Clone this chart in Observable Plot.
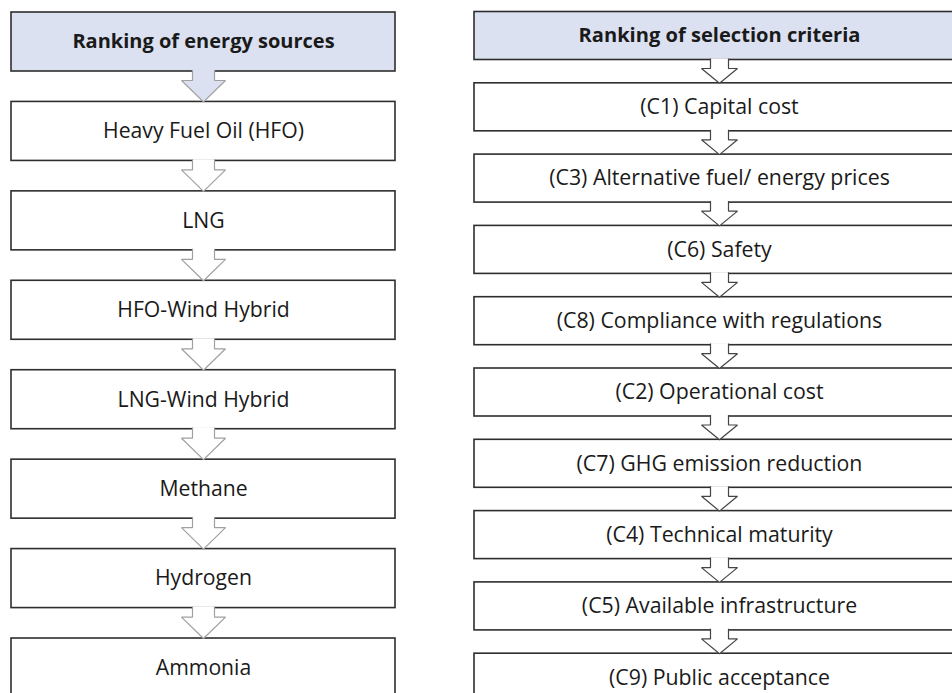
<!DOCTYPE html>
<html><head><meta charset="utf-8">
<script src="https://cdn.jsdelivr.net/npm/d3@7"></script>
<script src="https://cdn.jsdelivr.net/npm/@observablehq/plot@0.6"></script>
<style>
html,body{margin:0;padding:0;background:#fff;overflow:hidden}
#wrap{position:relative;width:952px;height:693px;overflow:hidden}
#left{position:absolute;left:0;top:0}
#right{position:absolute;left:440px;top:0}
svg{display:block}
</style></head><body>
<div id="wrap"><div id="left"></div><div id="right"></div></div>
<script>
// ---- data ----
const energyHeader = "Ranking of energy sources";
const energySources = ["Heavy Fuel Oil (HFO)", "LNG", "HFO-Wind Hybrid", "LNG-Wind Hybrid", "Methane", "Hydrogen", "Ammonia"];
const criteriaHeader = "Ranking of selection criteria";
const criteria = ["(C1) Capital cost", "(C3) Alternative fuel/ energy prices", "(C6) Safety",
  "(C8) Compliance with regulations", "(C2) Operational cost", "(C7) GHG emission reduction",
  "(C4) Technical maturity", "(C5) Available infrastructure", "(C9) Public acceptance"];

// ---- layout ----
const leftCfg = {width: 420, xl: 11, xr: 395, top: 12, step: 89.43, boxH: 59,
  stemHalf: 11, headHalf: 22, stemH: 9, headerArrowFill: "#dbe1f1", arrowStroke: "#a0a0a0",
  fontSize: 21.2, headerFontSize: 20};
const rightCfg = {width: 512, xl: 34, xr: 524, top: 11.5, step: 71.3, boxH: 48,
  stemHalf: 9, headHalf: 18, stemH: 8.5, headerArrowFill: "#ffffff", arrowStroke: "#444",
  fontSize: 21.3, headerFontSize: 20.1};

function column(header, items, c) {
  const rows = [{rank: 0, label: header, header: true}, ...items.map((l, i) => ({rank: i + 1, label: l, header: false}))];
  const n = rows.length;
  const cx = (c.xl + c.xr) / 2;
  const hFrac = c.boxH / c.step;
  const px = c.step; // pixels per row unit
  const arrows = [];
  rows.slice(0, n - 1).forEach(r => {
    const yb = r.rank + hFrac;
    const yn = r.rank + 1;
    const ys = yb + c.stemH / px;
    const pts = [
      [cx - c.stemHalf, yb - 1.6 / px], [cx - c.stemHalf, ys], [cx - c.headHalf, ys],
      [cx, yn], [cx + c.headHalf, ys], [cx + c.stemHalf, ys], [cx + c.stemHalf, yb - 1.6 / px]
    ];
    pts.forEach(([x, y]) => arrows.push({id: r.rank, header: r.header, x, y}));
  });
  return Plot.plot({
    width: c.width, height: 693,
    margin: 0,
    x: {domain: [0, c.width], range: [0, c.width], axis: null},
    y: {domain: [0, n], range: [c.top, c.top + n * c.step], axis: null},
    style: {fontFamily: "'Open Sans', Lato, sans-serif", background: "transparent", overflow: "hidden"},
    marks: [
      Plot.rect(rows, {x1: () => c.xl, x2: () => c.xr, y1: d => d.rank, y2: d => d.rank + hFrac,
        fill: d => d.header ? "#dbe1f1" : "#ffffff", stroke: "#2e2e2e", strokeWidth: 1.6}),
      Plot.line(arrows.filter(d => d.header), {x: "x", y: "y", z: "id", fill: c.headerArrowFill,
        stroke: c.arrowStroke, strokeWidth: 1.2, strokeLinejoin: "miter", strokeLinecap: "butt"}),
      Plot.line(arrows.filter(d => !d.header), {x: "x", y: "y", z: "id", fill: "#ffffff",
        stroke: c.arrowStroke, strokeWidth: 1.2, strokeLinejoin: "miter", strokeLinecap: "butt"}),
      Plot.text(rows.filter(d => d.header), {x: () => cx, y: d => d.rank + hFrac / 2, text: "label",
        fontSize: c.headerFontSize, fontWeight: "bold", lineAnchor: "middle", fill: "#1a1a1a"}),
      Plot.text(rows.filter(d => !d.header), {x: () => cx, y: d => d.rank + hFrac / 2, text: "label",
        fontSize: c.fontSize, lineAnchor: "middle", fill: "#1a1a1a"})
    ],
    color: {type: "identity"}
  });
}

document.getElementById("left").appendChild(column(energyHeader, energySources, leftCfg));
document.getElementById("right").appendChild(column(criteriaHeader, criteria, rightCfg));
</script>
</body></html>
